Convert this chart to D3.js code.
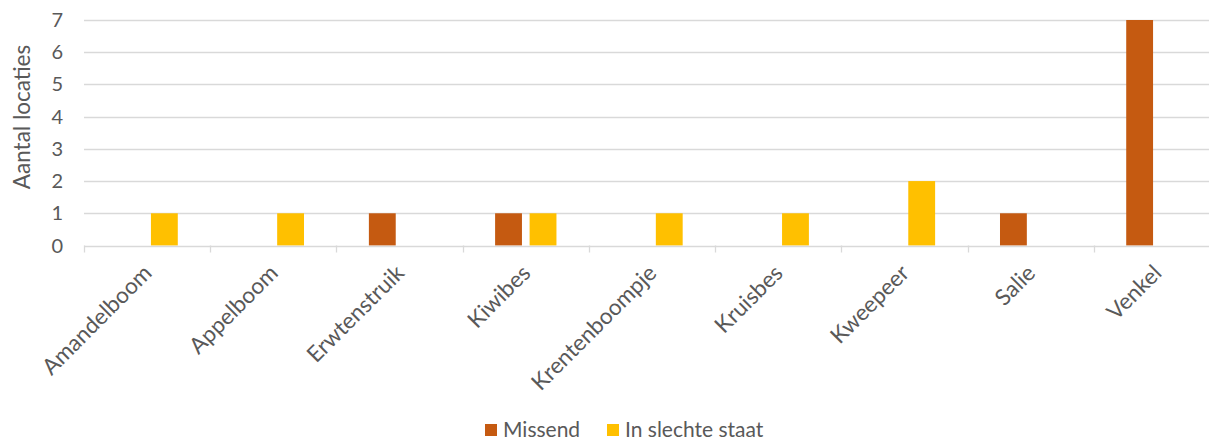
<!DOCTYPE html>
<html>
<head>
<meta charset="utf-8">
<script src="https://cdn.jsdelivr.net/npm/d3@7"></script>
<style>
  html, body { margin: 0; padding: 0; background: #fff; }
  svg { display: block; }
  text { font-family: Lato, "Open Sans", sans-serif; fill: #595959; }
</style>
</head>
<body>
<svg id="chart" width="1209" height="441"></svg>
<script>
(function() {
'use strict';

var categories = ['Amandelboom', 'Appelboom', 'Erwtenstruik', 'Kiwibes', 'Krentenboompje',
    'Kruisbes', 'Kweepeer', 'Salie', 'Venkel'];
var seriesNames = ['Missend', 'In slechte staat'];
var missend = [0, 0, 1, 1, 0, 0, 0, 1, 7];
var slechteStaat = [1, 1, 0, 1, 1, 1, 2, 0, 0];
var yTicks = [0, 1, 2, 3, 4, 5, 6, 7];
var colors = ['#c55a11', '#ffc000'];

var values = [missend, slechteStaat];

var svg = d3.select('#chart');
var left = 84, right = 1220, top = 20, bottom = 245.5;

var x0 = d3.scaleBand().domain(categories).range([left, right]).padding(0);
var x1 = d3.scaleBand().domain(seriesNames)
    .range([0, x0.bandwidth()])
    .paddingInner(0.222)
    .paddingOuter(0.94);
var y = d3.scaleLinear().domain([0, 7]).range([bottom, top]);

// gridlines
svg.append('g')
    .selectAll('line')
    .data(yTicks.slice(1))
    .enter()
    .append('line')
    .attr('x1', left)
    .attr('x2', right)
    .attr('y1', function(d) { return Math.round(y(d)) + 0.5; })
    .attr('y2', function(d) { return Math.round(y(d)) + 0.5; })
    .attr('stroke', '#d9d9d9')
    .attr('stroke-width', 1.3);

// y tick labels
svg.append('g')
    .selectAll('text')
    .data(yTicks)
    .enter()
    .append('text')
    .attr('x', 63)
    .attr('y', function(d) { return y(d); })
    .attr('dy', '0.35em')
    .attr('text-anchor', 'end')
    .attr('font-size', 20)
    .text(function(d) { return d; });

// y title
svg.append('text')
    .attr('transform', 'translate(30,117) rotate(-90)')
    .attr('text-anchor', 'middle')
    .attr('font-size', 22.5)
    .text('Aantal locaties');

// bars
var groups = svg.append('g')
    .selectAll('g')
    .data(categories)
    .enter()
    .append('g')
    .attr('transform', function(d) { return 'translate(' + x0(d) + ',0)'; });

groups.selectAll('rect')
    .data(function(d, i) {
        return seriesNames.map(function(s, k) {
            return { series: s, k: k, value: values[k][i] };
        });
    })
    .enter()
    .filter(function(d) { return d.value > 0; })
    .append('rect')
    .attr('x', function(d) { return x1(d.series); })
    .attr('width', x1.bandwidth())
    .attr('y', function(d) { return y(d.value); })
    .attr('height', function(d) { return y(0) - y(d.value); })
    .attr('fill', function(d) { return colors[d.k]; });

// x axis
var xAxis = svg.append('g');
xAxis.append('line')
    .attr('x1', left)
    .attr('x2', right)
    .attr('y1', Math.round(bottom) + 0.5)
    .attr('y2', Math.round(bottom) + 0.5)
    .attr('stroke', '#d9d9d9')
    .attr('stroke-width', 1.3);

xAxis.selectAll('line.tick')
    .data(categories)
    .enter()
    .append('line')
    .attr('class', 'tick')
    .attr('x1', function(d) { return Math.round(x0(d)) + 0.5; })
    .attr('x2', function(d) { return Math.round(x0(d)) + 0.5; })
    .attr('y1', bottom)
    .attr('y2', bottom + 7)
    .attr('stroke', '#d9d9d9')
    .attr('stroke-width', 1.3);

xAxis.selectAll('text')
    .data(categories)
    .enter()
    .append('text')
    .attr('font-size', 22.5)
    .attr('text-anchor', 'end')
    .attr('transform', function(d) {
        var cx = x0(d) + x0.bandwidth() / 2;
        return 'translate(' + (cx + 6) + ',' + (bottom + 29) + ') rotate(-45)';
    })
    .text(function(d) { return d; });

// legend
var legendX = [485, 607];
var legend = svg.append('g')
    .selectAll('g')
    .data(seriesNames)
    .enter()
    .append('g')
    .attr('transform', function(d, i) { return 'translate(' + legendX[i] + ',424)'; });

legend.append('rect')
    .attr('width', 12)
    .attr('height', 12)
    .attr('fill', function(d, i) { return colors[i]; });

legend.append('text')
    .attr('x', 18)
    .attr('y', 6)
    .attr('dy', '0.33em')
    .attr('font-size', 21)
    .text(function(d) { return d; });

})();
</script>
</body>
</html>
